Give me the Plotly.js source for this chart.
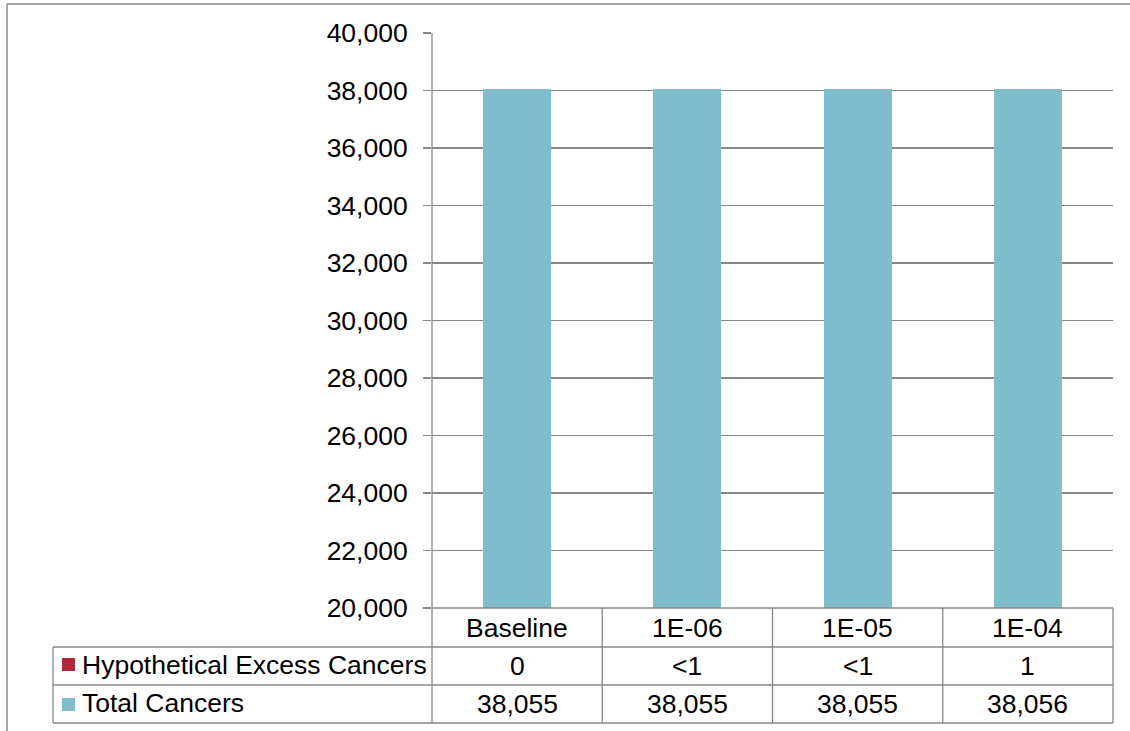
<!DOCTYPE html>
<html>
<head>
<meta charset="utf-8">
<script src="https://cdn.plot.ly/plotly-3.0.1.min.js"></script>
<style>
  html, body { margin: 0; padding: 0; background: #ffffff; }
  #chart { width: 1130px; height: 731px; }
</style>
</head>
<body>
<div id="chart"></div>
<script>
// Risk levels shown along the bottom
const categories = ['Baseline', '1E-06', '1E-05', '1E-04'];
// Total cancer cases per scenario
const totalCancers = [38055, 38055, 38055, 38056];
const totalLabels = ['38,055', '38,055', '38,055', '38,056'];
// Hypothetical excess cancers stacked on top ("<1" drawn as a fraction of one)
const excessCancers = [0, 0.5, 0.5, 1];
const excessLabels = ['0', '<1', '<1', '1'];
const seriesNames = ['Hypothetical Excess Cancers', 'Total Cancers'];

const W = 1130, H = 731;
const M = { l: 432, r: 17, t: 33, b: 123 };
const PW = W - M.l - M.r, PH = H - M.t - M.b;
const px = x => (x - M.l) / PW;          // pixel -> paper x
const py = y => (H - M.b - y) / PH;      // pixel -> paper y

const BLUE = '#81bccd';
const RED = '#b0263a';
const LINE = '#878787';
const FONT = 'Liberation Sans, Arial, sans-serif';
const FONT_SIZE = 26.5;

const traces = [
  { type: 'bar', x: categories, y: totalCancers, name: seriesNames[1],
    marker: { color: BLUE, line: { width: 0 } }, width: 0.4, hoverinfo: 'x+y' },
  { type: 'bar', x: categories, y: excessCancers, name: seriesNames[0],
    marker: { color: RED, line: { width: 0 } }, width: 0.4, hoverinfo: 'x+y' }
];

const shapes = [];
function hline(x0, x1, y) {
  shapes.push({ type: 'line', xref: 'paper', yref: 'paper', x0: px(x0), x1: px(x1), y0: py(y), y1: py(y),
    line: { color: LINE, width: 1.3 } });
}
function vline(x, y0, y1) {
  shapes.push({ type: 'line', xref: 'paper', yref: 'paper', x0: px(x), x1: px(x), y0: py(y0), y1: py(y1),
    line: { color: LINE, width: 1.3 } });
}
// outer chart frame (left and top edges)
shapes.push({ type: 'line', xref: 'paper', yref: 'paper', x0: px(7), x1: px(7), y0: py(4), y1: py(740),
  line: { color: '#8a8a8a', width: 1.5 } });
shapes.push({ type: 'line', xref: 'paper', yref: 'paper', x0: px(7), x1: px(1140), y0: py(4), y1: py(4),
  line: { color: '#8a8a8a', width: 1.5 } });

// data table grid
const rowY = [608, 647, 685, 723];
hline(432, 1113, rowY[0]);
hline(53, 1113, rowY[1]);
hline(53, 1113, rowY[2]);
hline(53, 1113, rowY[3]);
vline(53, rowY[1], rowY[3]);
vline(432, 33, rowY[3]);
for (let i = 1; i <= categories.length; i++) {
  vline(432 + i * PW / categories.length, rowY[0], rowY[3]);
}
// legend keys
shapes.push({ type: 'rect', xref: 'paper', yref: 'paper', x0: px(62), x1: px(75), y0: py(658), y1: py(671),
  fillcolor: RED, line: { width: 0 } });
shapes.push({ type: 'rect', xref: 'paper', yref: 'paper', x0: px(62), x1: px(75), y0: py(698), y1: py(711),
  fillcolor: BLUE, line: { width: 0 } });

const annotations = [];
const textFont = { family: FONT, size: FONT_SIZE, color: '#000000' };
function cell(i, y, text) {
  annotations.push({ xref: 'x', yref: 'paper', x: i, y: py(y), text: text, showarrow: false,
    xanchor: 'center', yanchor: 'middle', font: textFont });
}
categories.forEach((c, i) => {
  cell(i, 628, c);
  cell(i, 666, excessLabels[i]);
  cell(i, 704, totalLabels[i]);
});
const LEGEND_TEXT_X = 80;
annotations.push({ xref: 'paper', yref: 'paper', x: px(LEGEND_TEXT_X), y: py(665), text: seriesNames[0], showarrow: false,
  xanchor: 'left', yanchor: 'middle', font: textFont });
annotations.push({ xref: 'paper', yref: 'paper', x: px(LEGEND_TEXT_X), y: py(703), text: seriesNames[1], showarrow: false,
  xanchor: 'left', yanchor: 'middle', font: textFont });

const layout = {
  width: W, height: H,
  margin: M,
  paper_bgcolor: '#ffffff', plot_bgcolor: '#ffffff',
  barmode: 'stack',
  showlegend: false,
  font: { family: FONT, size: FONT_SIZE, color: '#000000' },
  xaxis: {
    type: 'category', showticklabels: false, ticks: '', showgrid: false,
    zeroline: false, showline: false, range: [-0.5, 3.5], fixedrange: true
  },
  yaxis: {
    range: [20000, 40000], dtick: 2000, tickformat: ',d',
    showgrid: true, gridcolor: LINE, gridwidth: 1.3,
    ticks: 'outside', ticklen: 8, tickcolor: LINE, tickwidth: 1.3,
    showline: false, zeroline: false,
    ticklabelstandoff: 10,
    tickfont: textFont, fixedrange: true
  },
  shapes: shapes,
  annotations: annotations
};

Plotly.newPlot('chart', traces, layout, { displayModeBar: false, staticPlot: true });
</script>
</body>
</html>
